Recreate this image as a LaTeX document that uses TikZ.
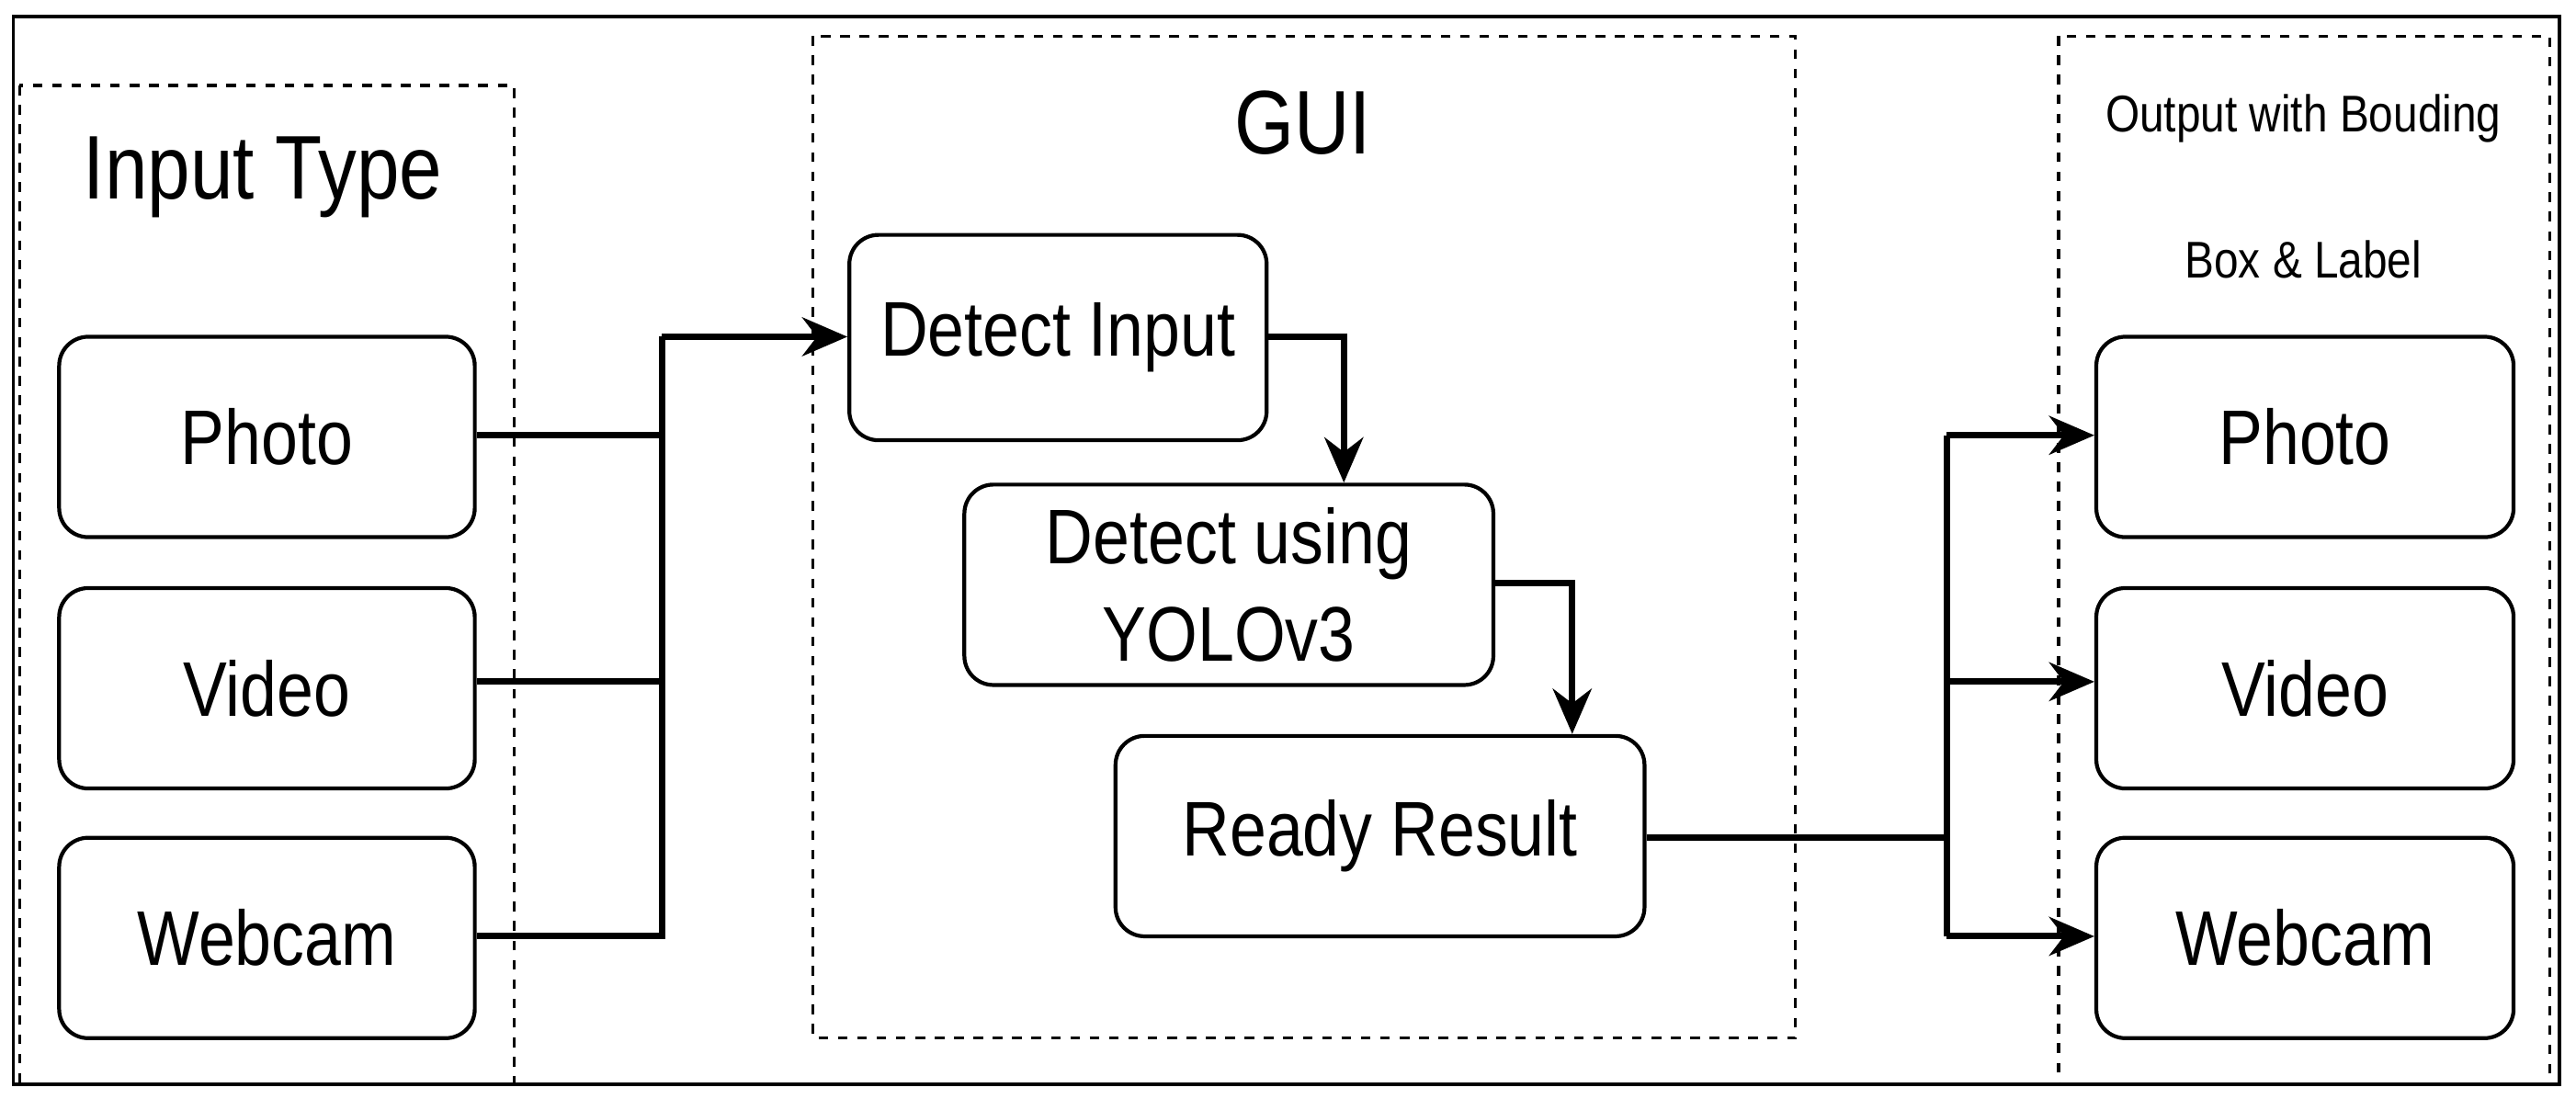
\documentclass[tikz,border=0pt]{standalone}
\usepackage{fontspec}
\setmainfont{Liberation Sans}[FakeStretch=0.85]
\usetikzlibrary{arrows.meta}
\begin{document}
\begin{tikzpicture}[x=0.01788cm,y=-0.01788cm,
  box/.style={draw,rounded corners=9pt,line width=1.2pt,inner sep=0pt,font=\fontsize{24}{28}\selectfont,align=center},
  dbox/.style={draw,dash pattern=on 3pt off 3pt,line width=0.9pt},
  con/.style={line width=2pt},
  arr/.style={con,-{Stealth[length=14pt,width=12pt]}}]
\useasboundingbox (0,0) rectangle (1568,669);
\draw[line width=1pt] (8,10) rectangle (1558,660);
\draw[dbox] (12,52) rectangle (313,660);
\draw[dbox] (495,22) rectangle (1093,632);
\draw[dbox] (1253,22) rectangle (1552,660);
\node[font=\fontsize{28}{32}\selectfont] (tin) at (160,108) {Input Type};
\node[font=\fontsize{28}{32}\selectfont] (tgui) at (793,75) {GUI};
\node[font=\fontsize{16}{18}\selectfont] (tout1) at (1402,72) {Output with Bouding};
\node[font=\fontsize{16}{18}\selectfont] (tout2) at (1402,158) {Box \& Label};
\node[box,minimum width=253*0.01788cm,minimum height=122*0.01788cm] (p) at (162.5,266) {Photo};
\node[box,minimum width=253*0.01788cm,minimum height=122*0.01788cm] (v) at (162.5,419) {Video};
\node[box,minimum width=253*0.01788cm,minimum height=122*0.01788cm] (w) at (162.5,571) {Webcam};
\node[box,minimum width=254*0.01788cm,minimum height=125*0.01788cm] (di) at (644,205.5) {Detect Input};
\node[box,minimum width=322*0.01788cm,minimum height=122*0.01788cm,font=\fontsize{24}{30}\selectfont] (dy) at (748,356) {Detect using\\YOLOv3};
\node[box,minimum width=322*0.01788cm,minimum height=122*0.01788cm] (rr) at (840,509) {Ready Result};
\node[box,minimum width=254*0.01788cm,minimum height=122*0.01788cm] (op) at (1403,266) {Photo};
\node[box,minimum width=254*0.01788cm,minimum height=122*0.01788cm] (ov) at (1403,419) {Video};
\node[box,minimum width=254*0.01788cm,minimum height=122*0.01788cm] (ow) at (1403,571) {Webcam};
\coordinate (j1) at (403,205);
\coordinate (j2) at (1185,510);
\draw[con] (p.east |- 0,265) -- (403,265);
\draw[con] (v.east |- 0,415) -- (403,415);
\draw[con] (w.east |- 0,570) -- (403,570) -- (j1);
\draw[arr] (j1) -- (di.west |- j1);
\draw[arr] (di.east |- 0,205) -| (dy.north -| 818,0);
\draw[arr] (dy.east |- 0,355) -| (rr.north -| 957,0);
\draw[con] (rr.east |- j2) -- (j2);
\draw[con] (1185,265) -- (1185,570);
\draw[arr] (1185,265) -- (op.west |- 0,265);
\draw[arr] (1185,415) -- (ov.west |- 0,415);
\draw[arr] (1185,570) -- (ow.west |- 0,570);
\end{tikzpicture}
\end{document}
